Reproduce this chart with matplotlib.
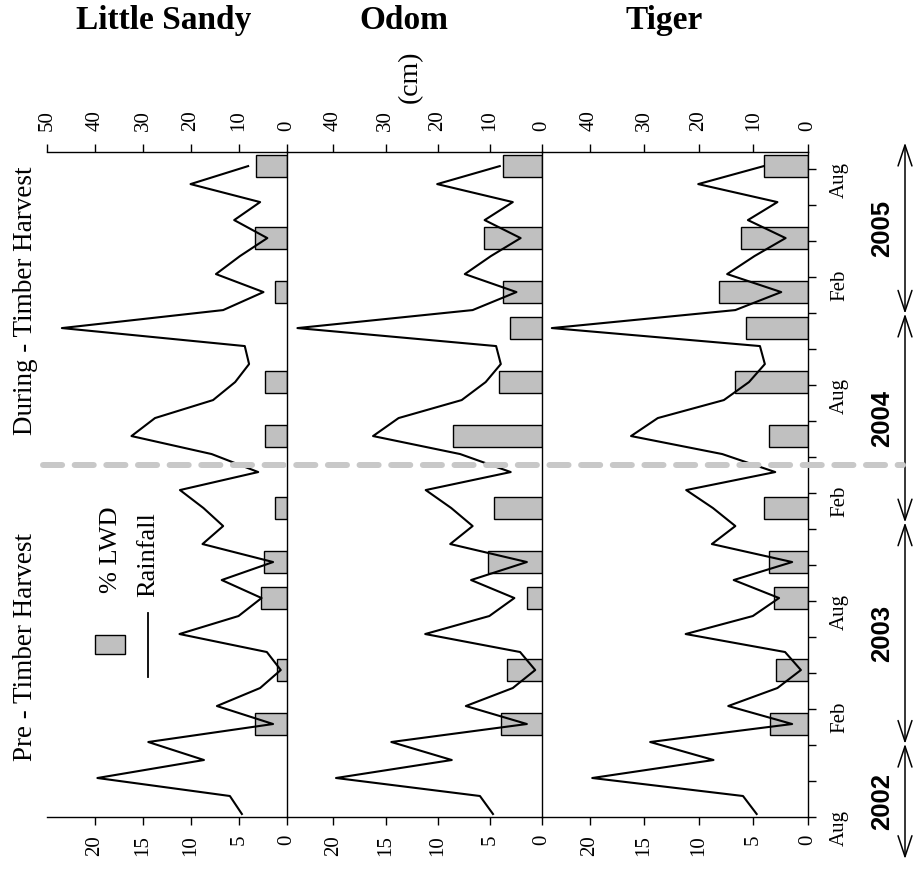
"""
Rainfall and % LWD at three streams (Little Sandy, Odom, Tiger), Aug 2002 - Aug 2005.
The figure is drawn sideways: time runs bottom to top, values grow to the left.
"""

import numpy as np
import matplotlib.pyplot as plt
import matplotlib.transforms as mtransforms
from matplotlib.lines import Line2D
from matplotlib.patches import Rectangle

# ====== fonts ======
plt.rcParams['font.family'] = ['Liberation Serif', 'DejaVu Serif']

# ====== data ======
# months counted from Aug 2002 (0) to Aug 2005 (36)
months = list(range(37))
rainfall = [9.4, 11.9, 39.5, 17.3, 28.9, 2.9, 14.6, 5.6, 1.3, 4.2,
            22.4, 10.1, 5.3, 13.6, 2.9, 17.6, 13.3, 17.4, 22.3, 6.0,
            15.7, 32.4, 27.5, 15.4, 10.8, 7.9, 8.8, 46.9, 13.3, 4.9,
            14.8, 9.8, 4.1, 11.0, 5.6, 20.1, 8.1]

ls_months = [5, 8, 12, 14, 17, 21, 24, 29, 32, 36]
ls_lwd = [3.3, 1.0, 2.7, 2.4, 1.2, 2.25, 2.25, 1.2, 3.3, 3.25]

survey_months = [5, 8, 12, 14, 17, 21, 24, 27, 29, 32, 36]
odom_lwd = [3.9, 3.35, 1.45, 5.2, 4.65, 8.5, 4.1, 3.05, 3.75, 5.6, 3.75]
tiger_lwd = [3.5, 2.9, 3.15, 3.6, 4.0, 3.55, 6.65, 5.65, 8.15, 6.15, 4.05]

sites = ['Little Sandy', 'Odom', 'Tiger']
harvest_start = 19.4                     # month where harvest begins
year_names = ['2002', '2003', '2004', '2005']
year_edges = [-2.5, 3.9, 16.2, 27.8, 37.3]
month_names = {0: 'Aug', 6: 'Feb', 12: 'Aug', 18: 'Feb', 24: 'Aug', 30: 'Feb', 36: 'Aug'}

# ====== layout ======
W, H = 914, 871
fig = plt.figure(figsize=(W / 100, H / 100), dpi=100)

bottom_px, top_px = 816.7, 151.7
panel_px = [(47, 287), (287, 542), (542, 808)]
rain_max = [50, 48.9, 48.7]
title_x = [164, 404, 664]
bar_sets = [(ls_months, ls_lwd), (survey_months, odom_lwd), (survey_months, tiger_lwd)]

bar_color = '#c0c0c0'
axes = []
for i, site in enumerate(sites):
    x0, x1 = panel_px[i]
    ax = fig.add_axes([x0 / W, 1 - bottom_px / H, (x1 - x0) / W, (bottom_px - top_px) / H])
    ax.patch.set_visible(False)
    bm, bv = bar_sets[i]
    ax.barh(bm, bv, height=1.22, color=bar_color, edgecolor='black', linewidth=1.0)
    ax.set_xlim(rain_max[i] / 2, 0)
    ax.set_ylim(-0.15, 36.8)
    ax.set_xticks([20, 15, 10, 5, 0])
    ax.tick_params(axis='x', direction='out', length=6, width=1, labelsize=15,
                   labelrotation=90, pad=7)
    for s in ['left', 'top']:
        ax.spines[s].set_visible(False)
    for s in ['bottom', 'right']:
        ax.spines[s].set_linewidth(1.0)
        ax.spines[s].set_zorder(3)

    ax2 = ax.twiny()
    ax2.patch.set_visible(False)
    ax2.plot(rainfall, months, color='black', linewidth=1.5)
    ax2.set_xlim(rain_max[i], 0)
    ax2.set_xticks(list(range(0, 51 if i == 0 else 41, 10)))
    ax2.tick_params(axis='x', direction='out', length=6, width=1, labelsize=15,
                    labelrotation=90, pad=9)
    for s in ['left', 'right', 'bottom']:
        ax2.spines[s].set_visible(False)
    ax2.spines['top'].set_linewidth(1.0)

    if i < 2:
        ax.set_yticks([])
    else:
        ticks = list(range(0, 37, 2))
        ax.yaxis.tick_right()
        ax.set_yticks([t - 0.15 for t in ticks])
        ax.set_yticklabels([month_names.get(t, '') for t in ticks])
        ax.tick_params(axis='y', direction='out', length=6, width=1, labelsize=15,
                       labelrotation=90, pad=10)
    axes.append(ax)

    fig.text(title_x[i] / W, 1 - 29 / H, site, ha='center', va='baseline',
             fontsize=24, fontweight='bold')

ax_t = axes[2]
trans = mtransforms.blended_transform_factory(fig.transFigure, ax_t.transData)

# harvest boundary
fig.add_artist(Line2D([43 / W, 903 / W], [harvest_start, harvest_start], transform=trans,
                      color='#c8c8c8', linewidth=4.3, dashes=(3.2, 2.1),
                      dash_capstyle='round', zorder=5))

# year brackets
for j, name in enumerate(year_names):
    lo, hi = year_edges[j], year_edges[j + 1]
    ax_t.annotate('', xy=(905 / W, hi), xytext=(905 / W, lo), xycoords=trans,
                  textcoords=trans, annotation_clip=False,
                  arrowprops=dict(arrowstyle='<->,head_length=0.75,head_width=0.25',
                                  mutation_scale=20, lw=1.1, color='black',
                                  shrinkA=0, shrinkB=0))
    ax_t.text(882 / W, (lo + hi) / 2, name, transform=trans, rotation=90,
              ha='center', va='center', fontsize=18.5, fontweight='bold',
              family=['Liberation Sans', 'DejaVu Sans'], clip_on=False)

# side labels
fig.text(26 / W, 1 - 166.7 / H, 'During - Timber Harvest', rotation=90,
         ha='center', va='top', fontsize=19.5)
fig.text(26 / W, 1 - 533 / H, 'Pre - Timber Harvest', rotation=90,
         ha='center', va='top', fontsize=19.5)
fig.text(410 / W, 1 - 77 / H, '(cm)', rotation=90, ha='center', va='center', fontsize=20)

# legend
fig.add_artist(Rectangle((95 / W, 1 - 654 / H), 30 / W, 19 / H, transform=fig.transFigure,
                         facecolor=bar_color, edgecolor='black', linewidth=1.0))
fig.add_artist(Line2D([148 / W, 148 / W], [1 - 613 / H, 1 - 677 / H],
                      transform=fig.transFigure, color='black', linewidth=1.3))
fig.text(111 / W, 1 - 593 / H, '% LWD', rotation=90, ha='center', va='bottom', fontsize=19)
fig.text(148 / W, 1 - 597 / H, 'Rainfall', rotation=90, ha='center', va='bottom', fontsize=19)

plt.savefig('out.png', dpi=100)
